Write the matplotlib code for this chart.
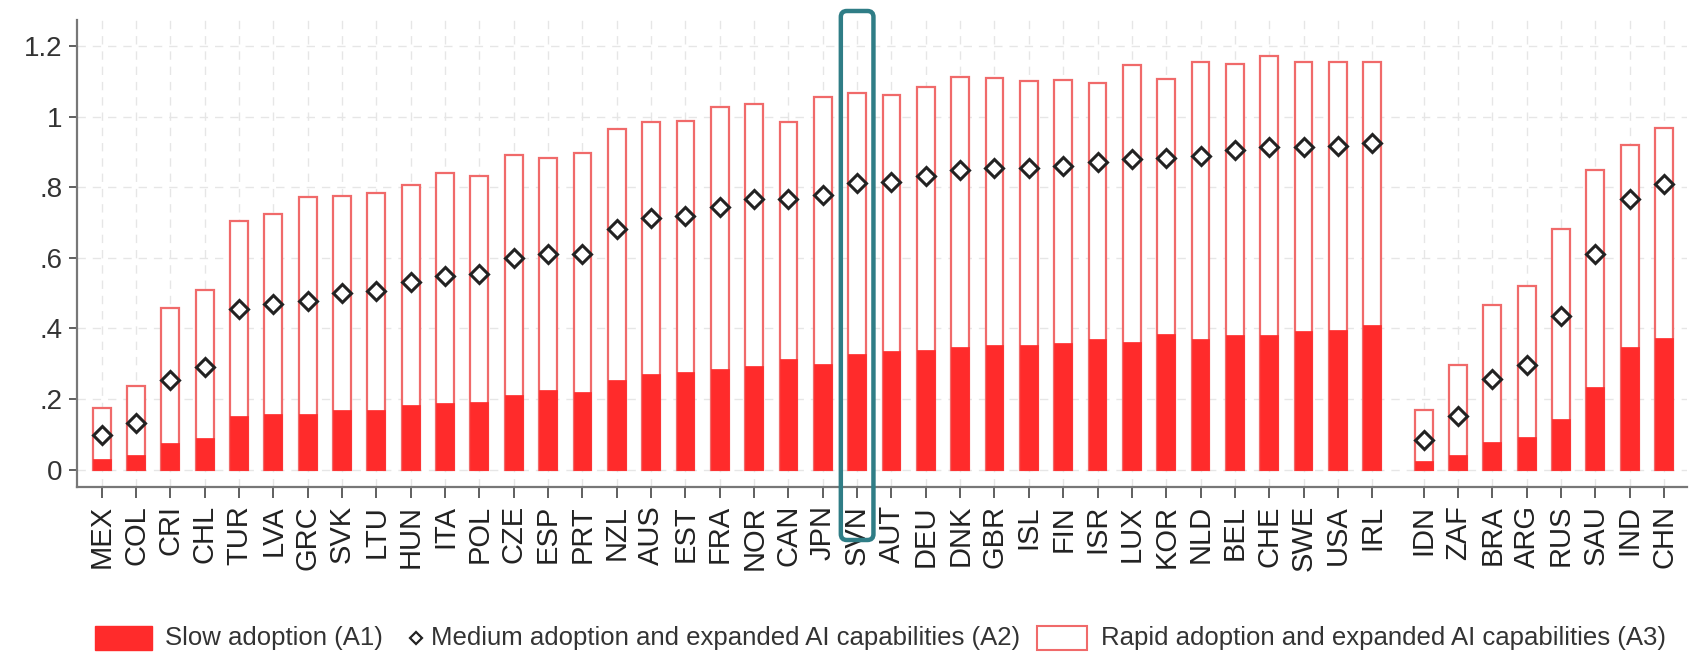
import numpy as np
import matplotlib
matplotlib.use("Agg")
import matplotlib.pyplot as plt
from matplotlib.patches import FancyBboxPatch, Rectangle
from matplotlib.lines import Line2D

plt.rcParams['font.family'] = ['Liberation Sans', 'DejaVu Sans']

# countries (OECD group, then the non-OECD group)
oecd = ["MEX", "COL", "CRI", "CHL", "TUR", "LVA", "GRC", "SVK", "LTU", "HUN",
        "ITA", "POL", "CZE", "ESP", "PRT", "NZL", "AUS", "EST", "FRA", "NOR",
        "CAN", "JPN", "SVN", "AUT", "DEU", "DNK", "GBR", "ISL", "FIN", "ISR",
        "LUX", "KOR", "NLD", "BEL", "CHE", "SWE", "USA", "IRL"]
other = ["IDN", "ZAF", "BRA", "ARG", "RUS", "SAU", "IND", "CHN"]

a1_oecd = [0.031, 0.043, 0.076, 0.090, 0.153, 0.157, 0.159, 0.168, 0.170, 0.184,
           0.189, 0.193, 0.213, 0.225, 0.220, 0.253, 0.271, 0.276, 0.284, 0.295,
           0.314, 0.300, 0.327, 0.335, 0.338, 0.347, 0.353, 0.354, 0.359, 0.371,
           0.361, 0.385, 0.369, 0.381, 0.381, 0.392, 0.395, 0.411]
a2_oecd = [0.099, 0.132, 0.253, 0.290, 0.454, 0.468, 0.479, 0.501, 0.506, 0.533,
           0.548, 0.554, 0.601, 0.610, 0.612, 0.682, 0.712, 0.720, 0.745, 0.766,
           0.766, 0.777, 0.811, 0.816, 0.832, 0.849, 0.855, 0.855, 0.860, 0.872,
           0.879, 0.883, 0.890, 0.905, 0.914, 0.915, 0.916, 0.926]
a3_oecd = [0.175, 0.238, 0.458, 0.508, 0.704, 0.725, 0.773, 0.775, 0.784, 0.807,
           0.841, 0.832, 0.891, 0.884, 0.898, 0.966, 0.985, 0.987, 1.027, 1.037,
           0.986, 1.057, 1.067, 1.062, 1.085, 1.112, 1.110, 1.101, 1.104, 1.095,
           1.147, 1.106, 1.156, 1.148, 1.171, 1.154, 1.155, 1.156]

a1_other = [0.024, 0.043, 0.078, 0.093, 0.145, 0.233, 0.347, 0.374]
a2_other = [0.085, 0.153, 0.258, 0.298, 0.434, 0.612, 0.767, 0.810]
a3_other = [0.168, 0.296, 0.467, 0.520, 0.681, 0.850, 0.919, 0.967]

legend_names = ["Slow adoption (A1)",
                "Medium adoption and expanded AI capabilities (A2)",
                "Rapid adoption and expanded AI capabilities (A3)"]

labels = oecd + other
a1 = np.array(a1_oecd + a1_other)
a2 = np.array(a2_oecd + a2_other)
a3 = np.array(a3_oecd + a3_other)
x = np.concatenate([np.arange(len(oecd)), np.arange(len(other)) + len(oecd) + 0.5])

red = "#ff2b2b"
red_line = "#f06a6a"
teal = "#2f7d86"

W, H = 1699, 655
fig = plt.figure(figsize=(W / 100, H / 100), dpi=100)
ax = fig.add_axes([0.0451, 0.2565, 0.9479, 0.7130])

w = 0.52
ax.bar(x, a3, width=w, facecolor="white", edgecolor=red_line, linewidth=1.6, zorder=2)
ax.bar(x, a1, width=w, facecolor=red, edgecolor=red, linewidth=0.5, zorder=3)
ax.plot(x, a2, linestyle="none", marker="D", markersize=9, markerfacecolor="white",
        markeredgecolor="#222222", markeredgewidth=2.2, zorder=4)

ax.set_xlim(-0.73, x[-1] + 0.67)
ax.set_ylim(-0.049, 1.274)
yt = [0, 0.2, 0.4, 0.6, 0.8, 1.0, 1.2]
ax.set_yticks(yt)
ax.set_yticklabels(["0", ".2", ".4", ".6", ".8", "1", "1.2"], fontsize=20, color="#333333")
ax.set_xticks(x)
ax.set_xticklabels(labels, rotation=90, fontsize=21, color="#222222")

ax.grid(True, color="#e6e6e6", linestyle=(0, (6, 5)), linewidth=1.0, zorder=0)
ax.set_axisbelow(True)
for s in ["top", "right"]:
    ax.spines[s].set_visible(False)
for s in ["left", "bottom"]:
    ax.spines[s].set_color("#777777")
    ax.spines[s].set_linewidth(1.6)
ax.tick_params(axis="x", length=8, width=1.2, color="#444444", pad=5)
ax.tick_params(axis="y", length=6, width=1.2, color="#444444", pad=4)

# highlight box around SVN, drawn in pixel space so the corners stay round
i = labels.index("SVN")
px_c = ax.transData.transform((x[i], 0))[0]
px_w = ax.transData.transform((x[i] + 0.475, 0))[0] - px_c
box = FancyBboxPatch((px_c - px_w, 115), 2 * px_w, 529,
                     boxstyle="round,pad=0,rounding_size=6",
                     facecolor="none", edgecolor=teal, linewidth=3.2,
                     transform=None, clip_on=False, zorder=5)
fig.patches.append(box)

# legend row along the bottom (pixel positions, y from bottom)
ly = 17
fig.patches.append(Rectangle((95, ly - 12), 57, 24, facecolor=red, edgecolor=red,
                             transform=None))
fig.text(165 / W, ly / H, legend_names[0], fontsize=18.5, color="#333333", va="center")
fig.lines.append(Line2D([416], [ly], linestyle="none", marker="D", markersize=6.5,
                        markerfacecolor="white", markeredgecolor="#222222",
                        markeredgewidth=1.6, transform=None))
fig.text(431 / W, ly / H, legend_names[1], fontsize=18.5, color="#333333", va="center")
fig.patches.append(Rectangle((1037, ly - 12), 50, 24, facecolor="white",
                             edgecolor=red_line, linewidth=1.5, transform=None))
fig.text(1101 / W, ly / H, legend_names[2], fontsize=18.5, color="#333333", va="center")

fig.savefig("out.png", dpi=100, facecolor="white")
